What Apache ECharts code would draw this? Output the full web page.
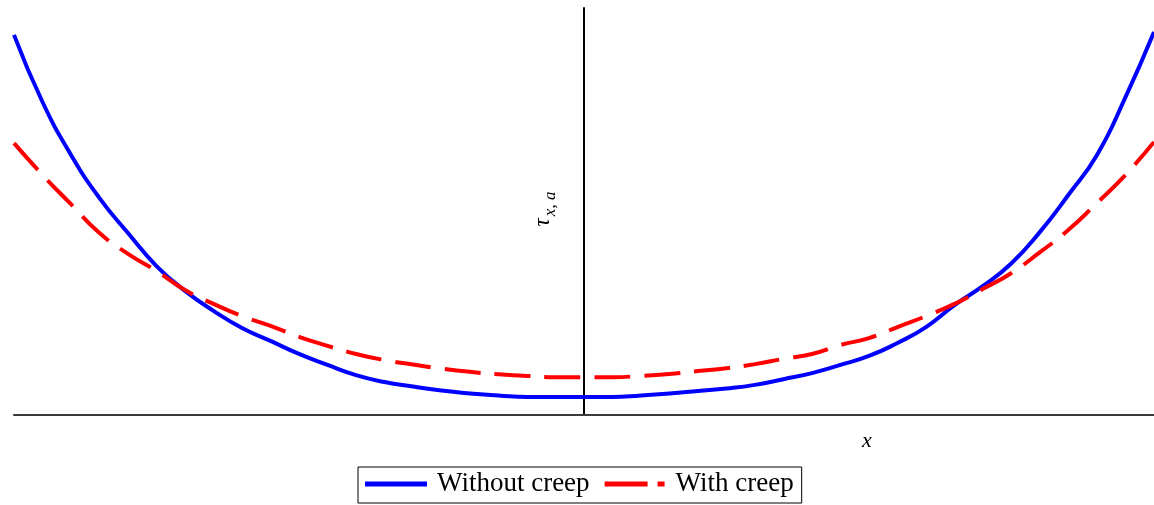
<!DOCTYPE html>
<html>
<head>
<meta charset="utf-8">
<script src="https://cdn.jsdelivr.net/npm/echarts@6/dist/echarts.min.js"></script>
<style>
  html, body { margin: 0; padding: 0; background: #ffffff; }
  #chart { width: 1154px; height: 505px; }
</style>
</head>
<body>
<div id="chart"></div>
<script>
// Normalised position along the member, -1 .. 1
const xPositions = [
  -1.00, -0.95, -0.90, -0.85, -0.80, -0.75, -0.70, -0.65, -0.60, -0.55, -0.50,
  -0.45, -0.40, -0.35, -0.30, -0.25, -0.20, -0.15, -0.10, -0.05, 0.00,
  0.05, 0.10, 0.15, 0.20, 0.25, 0.30, 0.35, 0.40, 0.45, 0.50,
  0.55, 0.60, 0.65, 0.70, 0.75, 0.80, 0.85, 0.90, 0.95, 1.00
];

// Shear stress tau_x,a (relative units) without creep
const withoutCreep = [
  93.4, 76.9, 63.9, 53.3, 44.7, 36.6, 30.5, 25.6, 21.4, 18.2, 15.0,
  12.3, 9.8, 8.1, 7.0, 6.0, 5.3, 4.8, 4.4, 4.4, 4.4,
  4.4, 4.8, 5.3, 5.9, 6.5, 7.4, 8.8, 10.3, 12.3, 14.5,
  17.7, 21.6, 27.0, 31.7, 37.3, 45.0, 54.1, 63.9, 78.1, 94.1
];

// Shear stress tau_x,a (relative units) with creep
const withCreep = [
  66.8, 59.0, 51.8, 44.7, 39.6, 35.4, 30.7, 27.3, 24.3, 21.9, 19.2,
  17.0, 15.0, 13.5, 12.4, 11.4, 10.6, 10.0, 9.6, 9.3, 9.3,
  9.3, 9.6, 10.1, 10.8, 11.5, 12.5, 13.8, 15.0, 17.2, 18.9,
  21.6, 24.3, 27.3, 31.0, 34.9, 40.0, 45.5, 52.1, 59.0, 67.1
];

const seriesNames = ['Without creep', 'With creep'];
const axisTitles = { x: 'x', tau: 'τ', tauSub: 'x, a' };

const pairs = (ys) => xPositions.map((x, i) => [x, ys[i]]);

const chart = echarts.init(document.getElementById('chart'), null, { renderer: 'canvas' });

const serif = '"Liberation Serif", "Times New Roman", serif';

chart.setOption({
  animation: false,
  backgroundColor: '#ffffff',
  grid: { left: 14, right: 0, top: 8, bottom: 90, containLabel: false, outerBoundsMode: 'none' },
  xAxis: {
    type: 'value',
    min: -1,
    max: 1,
    axisLine: { show: true, lineStyle: { color: '#3a3a3a', width: 2 } },
    axisTick: { show: false },
    axisLabel: { show: false },
    splitLine: { show: false }
  },
  yAxis: {
    type: 'value',
    min: 0,
    max: 100,
    axisLine: { show: true, onZero: true, lineStyle: { color: '#000000', width: 2 } },
    axisTick: { show: false },
    axisLabel: { show: false },
    splitLine: { show: false }
  },
  legend: {
    left: 358,
    top: 467,
    orient: 'horizontal',
    borderColor: '#000000',
    borderWidth: 1,
    padding: [0, 8, 2, 7],
    itemGap: 15,
    itemWidth: 62,
    itemHeight: 5,
    textStyle: {
      fontFamily: serif,
      fontSize: 27,
      color: '#000000',
      lineHeight: 26,
      padding: [8, 0, 0, 5]
    },
    data: [
      { name: seriesNames[0], icon: 'path://M0,0 H62 V5 H0 Z', itemStyle: { color: '#0000ff' } },
      { name: seriesNames[1], icon: 'path://M0,0 H43 V5 H0 Z M53,0 H60 V5 H53 Z', itemStyle: { color: '#ff0000' } }
    ]
  },
  graphic: [
    {
      // horizontal axis title
      type: 'text',
      left: 862,
      top: 430,
      style: { text: axisTitles.x, fontFamily: serif, fontSize: 22, fontStyle: 'italic', fill: '#000000' }
    },
    {
      // vertical axis title, read bottom to top beside the axis line
      type: 'text',
      x: 543,
      y: 209,
      rotation: Math.PI / 2,
      style: {
        text: '{t|' + axisTitles.tau + '}{s|' + axisTitles.tauSub + '}',
        align: 'center',
        verticalAlign: 'middle',
        rich: {
          t: { fontFamily: serif, fontSize: 23, fontStyle: 'italic', fill: '#000000' },
          s: { fontFamily: serif, fontSize: 17, fontStyle: 'italic', fill: '#000000', padding: [16, 0, 0, 2] }
        }
      }
    }
  ],
  series: [
    {
      name: seriesNames[0],
      type: 'line',
      data: pairs(withoutCreep),
      smooth: 0.5,
      showSymbol: false,
      symbol: 'none',
      lineStyle: { color: '#0000ff', width: 4 },
      itemStyle: { color: '#0000ff' },
      z: 3
    },
    {
      name: seriesNames[1],
      type: 'line',
      data: pairs(withCreep),
      smooth: 0.5,
      showSymbol: false,
      symbol: 'none',
      lineStyle: { color: '#ff0000', width: 4, type: [36, 14], cap: 'butt' },
      itemStyle: { color: '#ff0000' },
      z: 4
    }
  ]
});
</script>
</body>
</html>
